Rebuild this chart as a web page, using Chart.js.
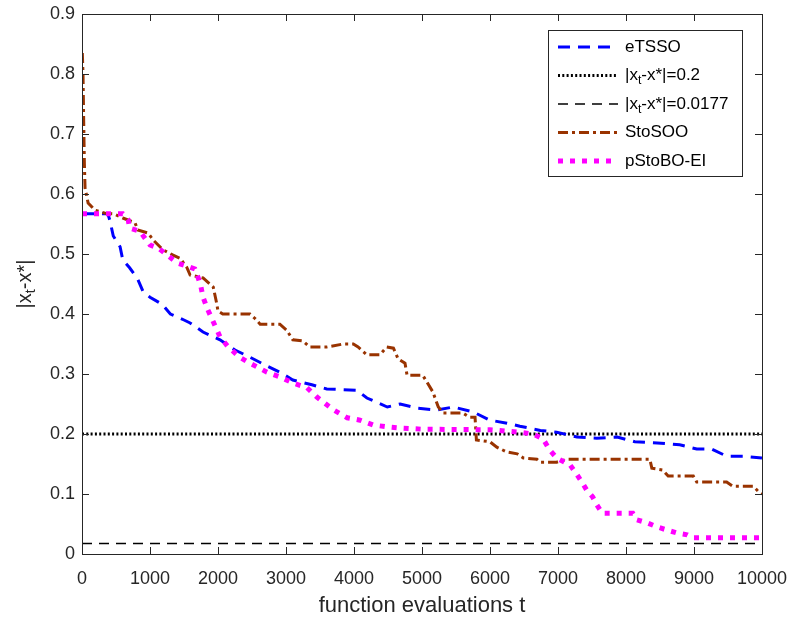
<!DOCTYPE html>
<html>
<head>
<meta charset="utf-8">
<script src="https://cdn.jsdelivr.net/npm/chart.js@4.4.0/dist/chart.umd.min.js"></script>
<style>
  html, body { margin: 0; padding: 0; background: #fff; }
  canvas { display: block; }
</style>
</head>
<body>
<canvas id="chart" width="788" height="617" style="width:788px;height:617px"></canvas>
<script>
// x ticks / y ticks
const xTicks = [0, 1000, 2000, 3000, 4000, 5000, 6000, 7000, 8000, 9000, 10000];
const yTicks = [0, 0.1, 0.2, 0.3, 0.4, 0.5, 0.6, 0.7, 0.8, 0.9];

// eTSSO
const etssoX = [0, 380, 410, 460, 560, 600, 700, 820, 900, 1000, 1180, 1300, 1500, 1590, 1780, 2030, 2250, 2470, 2690, 2910, 3100, 3380, 3600, 4040, 4190, 4490, 4680, 4930, 5220, 5460, 5750, 6000, 6250, 6440, 6740, 6980, 7280, 7570, 7870, 8130, 8460, 8790, 9040, 9260, 9480, 9720, 10000];
const etssoY = [0.567, 0.567, 0.556, 0.53, 0.512, 0.49, 0.477, 0.458, 0.437, 0.428, 0.416, 0.40, 0.39, 0.385, 0.37, 0.357, 0.34, 0.328, 0.315, 0.303, 0.29, 0.282, 0.275, 0.273, 0.26, 0.245, 0.25, 0.243, 0.24, 0.245, 0.237, 0.223, 0.218, 0.213, 0.206, 0.203, 0.195, 0.193, 0.195, 0.187, 0.185, 0.182, 0.175, 0.175, 0.163, 0.163, 0.16];

// StoSOO
const stosooX = [5, 15, 25, 35, 45, 90, 190, 340, 460, 600, 780, 820, 970, 1050, 1190, 1340, 1440, 1540, 1590, 1780, 1930, 1980, 2000, 2070, 2470, 2540, 2620, 2910, 3010, 3100, 3250, 3350, 3600, 3840, 3990, 4060, 4190, 4380, 4480, 4580, 4650, 4750, 4780, 5010, 5070, 5160, 5240, 5310, 5600, 5700, 5780, 5800, 6000, 6100, 6250, 6400, 6490, 6690, 6740, 6980, 7130, 8350, 8380, 8540, 8620, 8990, 9040, 9480, 9570, 9870, 9940, 10000];
const stosooY = [0.835, 0.80, 0.72, 0.65, 0.61, 0.585, 0.573, 0.568, 0.567, 0.56, 0.552, 0.54, 0.535, 0.523, 0.507, 0.498, 0.493, 0.478, 0.465, 0.46, 0.445, 0.418, 0.405, 0.40, 0.40, 0.393, 0.383, 0.383, 0.373, 0.357, 0.355, 0.345, 0.345, 0.35, 0.35, 0.345, 0.332, 0.332, 0.345, 0.343, 0.325, 0.318, 0.298, 0.298, 0.287, 0.27, 0.245, 0.235, 0.235, 0.228, 0.228, 0.19, 0.187, 0.178, 0.17, 0.167, 0.16, 0.158, 0.153, 0.153, 0.158, 0.158, 0.143, 0.14, 0.13, 0.13, 0.12, 0.12, 0.113, 0.113, 0.105, 0.10];

// pStoBO-EI
const pstoboX = [0, 600, 680, 700, 850, 1000, 1120, 1290, 1400, 1540, 1660, 1710, 1750, 1780, 1850, 1930, 2030, 2150, 2320, 2470, 2720, 2910, 3100, 3310, 3450, 3550, 3700, 3900, 4090, 4280, 4480, 4680, 5000, 6000, 6440, 6630, 6780, 6880, 6980, 7180, 7280, 7350, 7420, 7510, 7570, 7650, 8100, 8160, 8310, 8460, 8600, 8750, 8900, 8990, 10000];
const pstoboY = [0.567, 0.567, 0.557, 0.543, 0.538, 0.515, 0.51, 0.495, 0.485, 0.48, 0.475, 0.46, 0.445, 0.428, 0.407, 0.387, 0.362, 0.345, 0.328, 0.318, 0.303, 0.295, 0.285, 0.277, 0.262, 0.253, 0.24, 0.227, 0.223, 0.215, 0.212, 0.21, 0.208, 0.207, 0.203, 0.2, 0.192, 0.173, 0.16, 0.148, 0.132, 0.12, 0.107, 0.095, 0.082, 0.068, 0.068, 0.057, 0.052, 0.045, 0.04, 0.035, 0.032, 0.027, 0.027];

// reference levels
const refHigh = 0.2;
const refLow = 0.0177;

const axisColor = '#262626';
const fontName = '"Liberation Sans", Arial, sans-serif';

function pts(xs, ys) {
  return xs.map((x, i) => ({ x: x, y: ys[i] }));
}

const series = [
  { key: 'etsso', data: pts(etssoX, etssoY), color: '#0000ff', width: 3, dash: [12, 8] },
  { key: 'high', data: pts([0, 10000], [refHigh, refHigh]), color: '#000000', width: 3, dash: [2, 2.3] },
  { key: 'low', data: pts([0, 10000], [refLow, refLow]), color: '#000000', width: 1.5, dash: [10, 7] },
  { key: 'stosoo', data: pts(stosooX, stosooY), color: '#993300', width: 3, dash: [10, 4, 3, 4] },
  { key: 'pstobo', data: pts(pstoboX, pstoboY), color: '#ff00ff', width: 5, dash: [5, 7] }
];

// legend labels, with subscripts where needed
const legendLabels = [
  [{ t: 'eTSSO' }],
  [{ t: '|x' }, { t: 't', sub: true }, { t: '-x*|=0.2' }],
  [{ t: '|x' }, { t: 't', sub: true }, { t: '-x*|=0.0177' }],
  [{ t: 'StoSOO' }],
  [{ t: 'pStoBO-EI' }]
];

function drawRich(ctx, parts, x, y, size) {
  let cx = x;
  parts.forEach(p => {
    const s = p.sub ? size * 0.72 : size;
    ctx.font = s + 'px ' + fontName;
    ctx.fillText(p.t, cx, p.sub ? y + size * 0.32 : y);
    cx += ctx.measureText(p.t).width;
  });
  return cx - x;
}

const matlabAxes = {
  id: 'matlabAxes',
  afterDraw(chart) {
    const ctx = chart.ctx;
    const a = chart.chartArea;
    const sx = chart.scales.x, sy = chart.scales.y;
    ctx.save();
    ctx.strokeStyle = axisColor;
    ctx.lineWidth = 1;
    ctx.setLineDash([]);
    ctx.strokeRect(Math.round(a.left) + 0.5, Math.round(a.top) + 0.5, Math.round(a.right - a.left), Math.round(a.bottom - a.top));
    const tl = 7;
    ctx.beginPath();
    xTicks.forEach(v => {
      const px = Math.round(sx.getPixelForValue(v)) + 0.5;
      ctx.moveTo(px, a.bottom); ctx.lineTo(px, a.bottom - tl);
      ctx.moveTo(px, a.top); ctx.lineTo(px, a.top + tl);
    });
    yTicks.forEach(v => {
      const py = Math.round(sy.getPixelForValue(v)) + 0.5;
      ctx.moveTo(a.left, py); ctx.lineTo(a.left + tl, py);
      ctx.moveTo(a.right, py); ctx.lineTo(a.right - tl, py);
    });
    ctx.stroke();

    // axis titles
    ctx.fillStyle = axisColor;
    ctx.textBaseline = 'middle';
    ctx.textAlign = 'center';
    ctx.font = '22px ' + fontName;
    ctx.fillText('function evaluations t', (a.left + a.right) / 2, 606);

    ctx.save();
    ctx.translate(25, (a.top + a.bottom) / 2);
    ctx.rotate(-Math.PI / 2);
    ctx.textAlign = 'left';
    const yParts = [{ t: '|x' }, { t: 't', sub: true }, { t: '-x*|' }];
    let w = 0;
    yParts.forEach(p => { ctx.font = (p.sub ? 14.4 : 20) + 'px ' + fontName; w += ctx.measureText(p.t).width; });
    drawRich(ctx, yParts, -w / 2, 0, 20);
    ctx.restore();

    // legend
    const box = { x: 548, y: 30, w: 194, h: 146 };
    ctx.fillStyle = '#ffffff';
    ctx.fillRect(box.x, box.y, box.w, box.h);
    ctx.strokeStyle = axisColor;
    ctx.lineWidth = 1;
    ctx.strokeRect(box.x + 0.5, box.y + 0.5, box.w, box.h);
    const rows = [47, 75.5, 104, 132.5, 161];
    series.forEach((s, i) => {
      const yy = rows[i];
      ctx.strokeStyle = s.color;
      ctx.lineWidth = s.width;
      ctx.lineCap = 'butt';
      ctx.setLineDash(s.dash);
      ctx.beginPath();
      ctx.moveTo(558, yy);
      ctx.lineTo(618, yy);
      ctx.stroke();
      ctx.setLineDash([]);
      ctx.fillStyle = '#000000';
      ctx.textAlign = 'left';
      ctx.textBaseline = 'middle';
      drawRich(ctx, legendLabels[i], 625, yy, 17);
    });
    ctx.restore();
  }
};

const datasets = series.map((s, i) => ({
  label: s.key,
  data: s.data,
  borderColor: s.color,
  backgroundColor: s.color,
  borderWidth: s.width,
  borderDash: s.dash,
  borderCapStyle: 'butt',
  borderJoinStyle: 'miter',
  pointRadius: 0,
  tension: 0,
  fill: false,
  order: { etsso: 2, high: 3, low: 3, stosoo: 1, pstobo: 0 }[s.key]
}));

new Chart(document.getElementById('chart'), {
  type: 'line',
  data: { datasets: datasets },
  options: {
    responsive: false,
    animation: false,
    devicePixelRatio: 1,
    layout: { autoPadding: false, padding: { left: 0, right: 26, top: 14, bottom: 0 } },
    plugins: { legend: { display: false }, tooltip: { enabled: false } },
    scales: {
      x: {
        type: 'linear',
        min: 0,
        max: 10000,
        afterFit: s => { s.height = 63; s.paddingLeft = 0; s.paddingRight = 0; },
        afterBuildTicks: s => { s.ticks = xTicks.map(v => ({ value: v })); },
        grid: { display: false, drawTicks: false },
        border: { display: false },
        ticks: {
          padding: 14,
          maxRotation: 0,
          autoSkip: false,
          color: axisColor,
          font: { family: fontName, size: 18 },
          callback: v => String(v)
        }
      },
      y: {
        type: 'linear',
        min: 0,
        max: 0.9,
        afterFit: s => { s.width = 82; s.paddingTop = 0; s.paddingBottom = 0; },
        afterBuildTicks: s => { s.ticks = yTicks.map(v => ({ value: v })); },
        grid: { display: false, drawTicks: false },
        border: { display: false },
        ticks: {
          padding: 7,
          autoSkip: false,
          color: axisColor,
          font: { family: fontName, size: 18 },
          callback: v => v === 0 ? '0' : v.toFixed(1)
        }
      }
    }
  },
  plugins: [matlabAxes]
});
</script>
</body>
</html>
